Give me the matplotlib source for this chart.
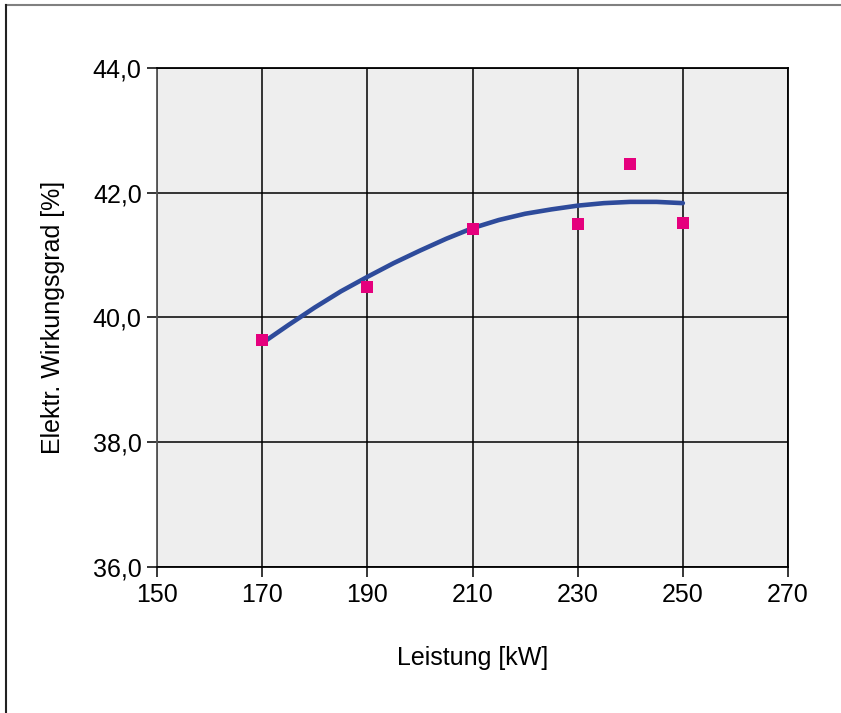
import matplotlib
matplotlib.use("Agg")
import matplotlib.pyplot as plt
from matplotlib.lines import Line2D
from matplotlib.ticker import FuncFormatter

# Messwerte
leistung = [170, 190, 210, 230, 240, 250]
wirkungsgrad = [39.64, 40.49, 41.42, 41.50, 42.46, 41.51]

# Trendlinie
trend_x = [170, 175, 180, 185, 190, 195, 200, 205, 210, 215, 220, 225,
           230, 235, 240, 245, 250]
trend_y = [39.59, 39.88, 40.16, 40.42, 40.65, 40.87, 41.07, 41.26, 41.43,
           41.56, 41.66, 41.73, 41.79, 41.83, 41.85, 41.85, 41.83]

x_ticks = [150, 170, 190, 210, 230, 250, 270]
y_ticks = [36, 38, 40, 42, 44]

plt.rcParams['font.family'] = ['Liberation Sans', 'DejaVu Sans']

fig = plt.figure(figsize=(8.41, 7.13), dpi=100)
ax = fig.add_axes([0.1867, 0.2041, 0.7503, 0.7012])
ax.set_facecolor('#eeeeee')

ax.plot(trend_x, trend_y, color='#2e4b9b', lw=3.3, solid_capstyle='round',
        solid_joinstyle='round', zorder=3)
ax.plot(leistung, wirkungsgrad, 's', color='#e5007d', markersize=8,
        markeredgewidth=0, zorder=4)

ax.set_xlim(150, 270)
ax.set_ylim(36, 44)
ax.set_xticks(x_ticks)
ax.set_yticks(y_ticks)
ax.yaxis.set_major_formatter(FuncFormatter(lambda v, p: f"{v:.1f}".replace('.', ',')))
ax.grid(True, color='black', lw=1.1)
ax.set_axisbelow(True)
ax.tick_params(direction='out', length=7, width=1.1, labelsize=18, pad=4)
for s in ax.spines.values():
    s.set_color('black')
    s.set_linewidth(1.3)
ax.spines['left'].set_color('#555555')

ax.set_xlabel('Leistung [kW]', fontsize=18, labelpad=28)
ax.set_ylabel('Elektr. Wirkungsgrad [%]', fontsize=18, labelpad=20)

# Rahmen oben und links
fig.add_artist(Line2D([6 / 841, 1], [1 - 5 / 713, 1 - 5 / 713],
                      transform=fig.transFigure, color='#808080', lw=1.5))
fig.add_artist(Line2D([6 / 841, 6 / 841], [0, 1 - 5 / 713],
                      transform=fig.transFigure, color='#222222', lw=1.5))

fig.savefig('out.png', dpi=100)
